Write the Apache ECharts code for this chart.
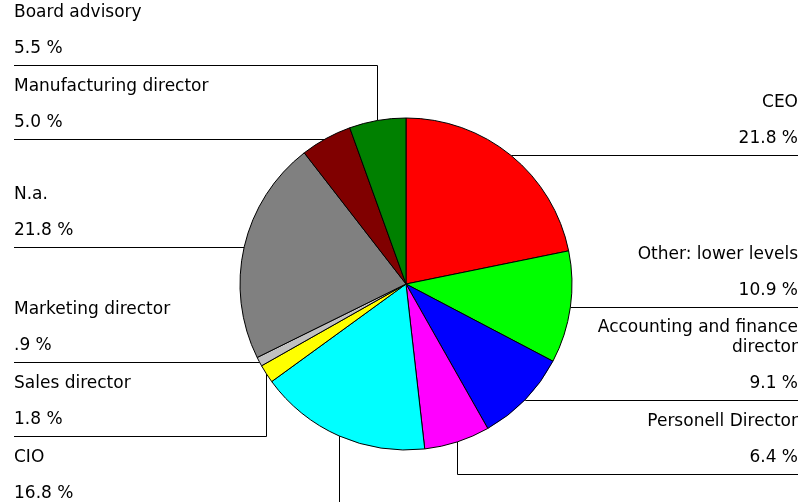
<!DOCTYPE html>
<html lang="en">
<head>
<meta charset="utf-8" />
<title>Pie chart</title>
<script src="https://cdn.jsdelivr.net/npm/echarts@6/dist/echarts.min.js"></script>
<style>
  html, body { margin: 0; padding: 0; background: #fff; }
  #pieChart { width: 811px; height: 502px; }
</style>
</head>
<body>
<div id="pieChart"></div>
<script>
// slices, clockwise from 12 o'clock
const categories = ['CEO', 'Other: lower levels', 'Accounting and finance director', 'Personell Director',
  'CIO', 'Sales director', 'Marketing director', 'N.a.', 'Manufacturing director', 'Board advisory'];
const shares = [21.8, 10.9, 9.1, 6.4, 16.8, 1.8, 0.9, 21.8, 5.0, 5.5];
const sliceColors = ['#ff0000', '#00ff00', '#0000ff', '#ff00ff', '#00ffff',
  '#ffff00', '#c0c0c0', '#808080', '#800000', '#008000'];

const CX = 406, CY = 284, R = 166;
const LEFT_X = 14, RIGHT_X = 798, GAP = 74;
const MAX_CHARS = 22;

// label rows: start level with the slice middle, then pushed away from the centre line
const total = shares.reduce(function(a, b) { return a + b; }, 0);
const side = [], lineY = [];
let acc = 0;
shares.forEach(function(v, i) {
  const mid = (acc + v / 2) / total * 2 * Math.PI;
  acc += v;
  side[i] = Math.sin(mid) >= 0 ? 'right' : 'left';
  lineY[i] = CY - R * Math.cos(mid);
});
['left', 'right'].forEach(function(s) {
  const idx = shares.map(function(v, i) { return i; }).filter(function(i) { return side[i] === s; });
  const up = idx.filter(function(i) { return lineY[i] < CY; }).sort(function(a, b) { return lineY[b] - lineY[a]; });
  const down = idx.filter(function(i) { return lineY[i] >= CY; }).sort(function(a, b) { return lineY[a] - lineY[b]; });
  for (let k = 1; k < up.length; k++) lineY[up[k]] = Math.min(lineY[up[k]], lineY[up[k - 1]] - GAP);
  for (let k = 1; k < down.length; k++) lineY[down[k]] = Math.max(lineY[down[k]], lineY[down[k - 1]] + GAP);
});
// snap to pixel centre so lines stay crisp
lineY.forEach(function(y, i) { lineY[i] = Math.round(y) + 0.5; });

// ".9 %" style, no leading zero
function fmtShare(v) {
  let s = v.toFixed(1);
  if (v < 1) s = s.replace(/^0/, '');
  return s + ' %';
}

// word wrap long names
function wrapName(name) {
  const lines = [];
  let cur = '';
  name.split(' ').forEach(function(w) {
    if (cur && (cur + ' ' + w).length > MAX_CHARS) { lines.push(cur); cur = w; }
    else cur = cur ? cur + ' ' + w : w;
  });
  lines.push(cur);
  return lines;
}

const pieChart = echarts.init(document.getElementById('pieChart'));
pieChart.setOption({
  animation: false,
  series: [{
    type: 'pie',
    center: [CX, CY],
    radius: R,
    startAngle: 90,
    clockwise: true,
    avoidLabelOverlap: false,
    silent: true,
    itemStyle: { borderColor: '#000', borderWidth: 1 },
    label: {
      show: true,
      position: 'outside',
      formatter: function(p) {
        return wrapName(p.name).map(function(l) { return '{n|' + l + '}'; }).join('\n') +
          '\n{v|' + fmtShare(p.value) + '}';
      },
      rich: {
        n: { fontFamily: 'DejaVu Sans', fontSize: 17, lineHeight: 20, color: '#000' },
        v: { fontFamily: 'DejaVu Sans', fontSize: 17, lineHeight: 52, color: '#000' }
      }
    },
    labelLine: { show: true, length: 0, length2: 0, lineStyle: { color: '#000', width: 1 } },
    labelLayout: function(p) {
      const i = p.dataIndex;
      const e = p.labelLinePoints[0];
      const right = side[i] === 'right';
      const endX = right ? RIGHT_X : LEFT_X;
      const ex = Math.round(e[0]) + 0.5;
      return {
        x: endX,
        y: lineY[i] + 9,
        align: right ? 'right' : 'left',
        verticalAlign: 'bottom',
        labelLinePoints: [[ex, e[1]], [ex, lineY[i]], [endX, lineY[i]]]
      };
    },
    data: categories.map(function(c, i) {
      return { name: c, value: shares[i], itemStyle: { color: sliceColors[i] } };
    })
  }]
});
</script>
</body>
</html>
